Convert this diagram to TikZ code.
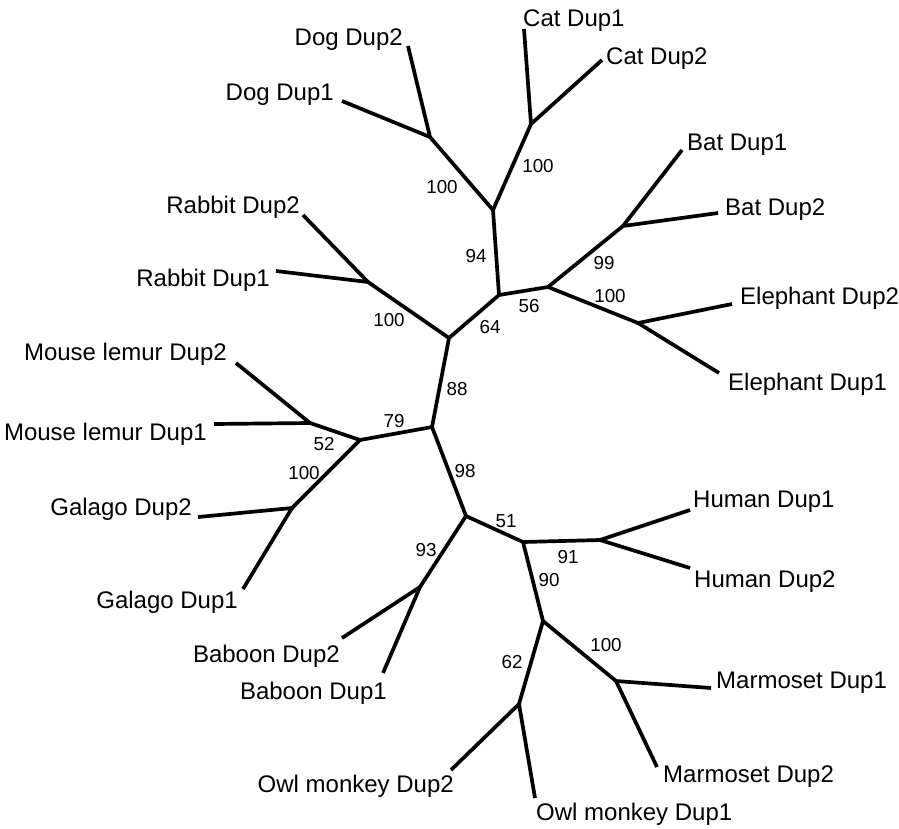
\documentclass[tikz,border=0pt]{standalone}
\usepackage{fontspec}
\setmainfont{Liberation Sans}
\begin{document}
\begin{tikzpicture}[x=1pt,y=-1pt,
	branch/.style={line width=3.7pt},
	leaf/.style={inner sep=0pt,font=\fontsize{24}{26}\selectfont},
	boot/.style={inner sep=0pt,font=\fontsize{18.8}{20}\selectfont}]
	\useasboundingbox (0,0) rectangle (899,828);

	% inner nodes of the tree
	\coordinate (hub) at (432,427);
	\coordinate (glires) at (449,338);
	\coordinate (laura) at (499,295);
	\coordinate (carniv) at (493,210);
	\coordinate (dog) at (430,137);
	\coordinate (cat) at (531,124);
	\coordinate (batele) at (548,287);
	\coordinate (bat) at (623,226);
	\coordinate (ele) at (638,323);
	\coordinate (rabbit) at (368,282);
	\coordinate (strep) at (360,440);
	\coordinate (lemur) at (310,423);
	\coordinate (galago) at (292,508);
	\coordinate (anthro) at (466,516);
	\coordinate (baboon) at (420,587);
	\coordinate (plat) at (523,542);
	\coordinate (human) at (600,540);
	\coordinate (nwm) at (543,621);
	\coordinate (marm) at (616,681);
	\coordinate (owl) at (519,704);

	% leaf tips
	\coordinate (dog2) at (408,46);
	\coordinate (dog1) at (342,101);
	\coordinate (cat1) at (524,29);
	\coordinate (cat2) at (602,60);
	\coordinate (bat1) at (682,150);
	\coordinate (bat2) at (718,213);
	\coordinate (ele2) at (732,304);
	\coordinate (ele1) at (719,373);
	\coordinate (rab2) at (303,215);
	\coordinate (rab1) at (276,271);
	\coordinate (lem2) at (236,363);
	\coordinate (lem1) at (214,424);
	\coordinate (gal2) at (198,517);
	\coordinate (gal1) at (243,589);
	\coordinate (bab2) at (342,638);
	\coordinate (bab1) at (383,673);
	\coordinate (owl2) at (451,770);
	\coordinate (owl1) at (535,798);
	\coordinate (hum1) at (690,510);
	\coordinate (hum2) at (690,568);
	\coordinate (mar1) at (711,688);
	\coordinate (mar2) at (657,767);

	% backbone
	\draw[branch] (hub) -- (glires) -- (laura) -- (carniv);
	\draw[branch] (laura) -- (batele);
	\draw[branch] (glires) -- (rabbit);
	\draw[branch] (hub) -- (strep);
	\draw[branch] (hub) -- (anthro) -- (plat) -- (nwm);
	\draw[branch] (carniv) -- (dog);
	\draw[branch] (carniv) -- (cat);
	\draw[branch] (batele) -- (bat);
	\draw[branch] (batele) -- (ele);
	\draw[branch] (strep) -- (lemur);
	\draw[branch] (strep) -- (galago);
	\draw[branch] (anthro) -- (baboon);
	\draw[branch] (plat) -- (human);
	\draw[branch] (nwm) -- (marm);
	\draw[branch] (nwm) -- (owl);

	% cherries
	\draw[branch] (dog1) -- (dog) -- (dog2);
	\draw[branch] (cat1) -- (cat) -- (cat2);
	\draw[branch] (bat1) -- (bat) -- (bat2);
	\draw[branch] (ele2) -- (ele) -- (ele1);
	\draw[branch] (rab2) -- (rabbit) -- (rab1);
	\draw[branch] (lem2) -- (lemur) -- (lem1);
	\draw[branch] (gal2) -- (galago) -- (gal1);
	\draw[branch] (bab2) -- (baboon) -- (bab1);
	\draw[branch] (hum1) -- (human) -- (hum2);
	\draw[branch] (mar1) -- (marm) -- (mar2);
	\draw[branch] (owl2) -- (owl) -- (owl1);

	% leaf names
	\node[leaf,anchor=base east] (tDog2) at (403,45) {Dog Dup2};
	\node[leaf,anchor=base east] (tDog1) at (334,100) {Dog Dup1};
	\node[leaf,anchor=base west] (tCat1) at (523,26) {Cat Dup1};
	\node[leaf,anchor=base west] (tCat2) at (606,64) {Cat Dup2};
	\node[leaf,anchor=base west] (tBat1) at (687,150) {Bat Dup1};
	\node[leaf,anchor=base west] (tBat2) at (725,215) {Bat Dup2};
	\node[leaf,anchor=base west] (tEle2) at (740,304) {Elephant Dup2};
	\node[leaf,anchor=base west] (tEle1) at (728,390) {Elephant Dup1};
	\node[leaf,anchor=base east] (tRab2) at (300,213) {Rabbit Dup2};
	\node[leaf,anchor=base east] (tRab1) at (270,286) {Rabbit Dup1};
	\node[leaf,anchor=base east] (tLem2) at (227,360) {Mouse lemur Dup2};
	\node[leaf,anchor=base east] (tLem1) at (207,440) {Mouse lemur Dup1};
	\node[leaf,anchor=base east] (tGal2) at (192,515) {Galago Dup2};
	\node[leaf,anchor=base east] (tGal1) at (238,608) {Galago Dup1};
	\node[leaf,anchor=base east] (tBab2) at (340,662) {Baboon Dup2};
	\node[leaf,anchor=base east] (tBab1) at (387,699) {Baboon Dup1};
	\node[leaf,anchor=base east] (tOwl2) at (454,792) {Owl monkey Dup2};
	\node[leaf,anchor=base west] (tOwl1) at (536,820) {Owl monkey Dup1};
	\node[leaf,anchor=base west] (tHum1) at (693,507) {Human Dup1};
	\node[leaf,anchor=base west] (tHum2) at (694,587) {Human Dup2};
	\node[leaf,anchor=base west] (tMar1) at (716,688) {Marmoset Dup1};
	\node[leaf,anchor=base west] (tMar2) at (663,782) {Marmoset Dup2};

	% bootstrap values
	\node[boot] (bDog) at (442,187) {100};
	\node[boot] (bCat) at (538,166) {100};
	\node[boot] (bCarniv) at (476,256) {94};
	\node[boot] (bBatEle) at (529,306) {56};
	\node[boot] (bLaura) at (490,327) {64};
	\node[boot] (bRabbit) at (389,320) {100};
	\node[boot] (bBat) at (604,263) {99};
	\node[boot] (bEle) at (610,296) {100};
	\node[boot] (bGlires) at (457,389) {88};
	\node[boot] (bStrep) at (394,421) {79};
	\node[boot] (bLemur) at (324,444) {52};
	\node[boot] (bGalago) at (304,473) {100};
	\node[boot] (bAnthro) at (465,471) {98};
	\node[boot] (bPlat) at (506,521) {51};
	\node[boot] (bBaboon) at (426,550) {93};
	\node[boot] (bHuman) at (568,557) {91};
	\node[boot] (bNwm) at (549,580) {90};
	\node[boot] (bMarm) at (606,645) {100};
	\node[boot] (bOwl) at (512,662) {62};
\end{tikzpicture}
\end{document}
